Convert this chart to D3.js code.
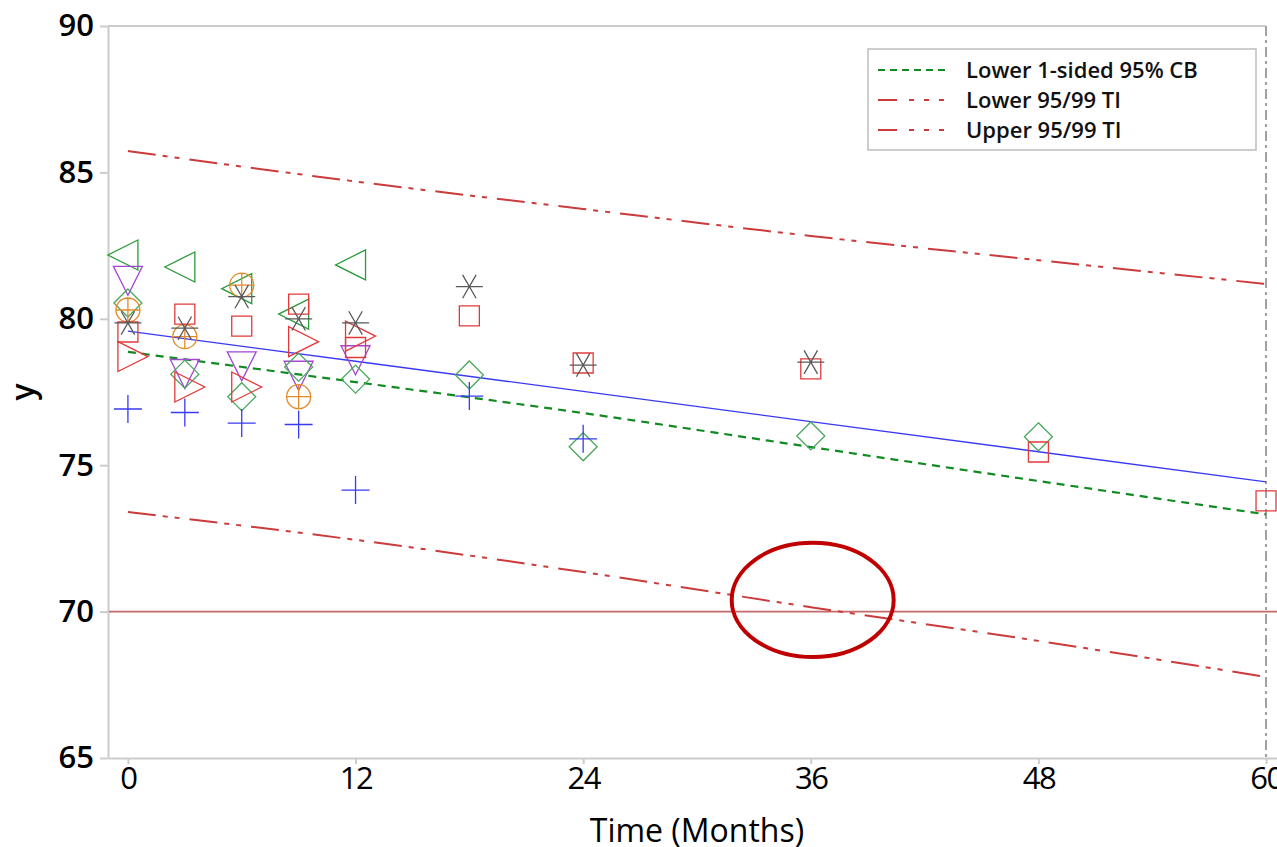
<!DOCTYPE html>
<html>
<head>
<meta charset="UTF-8">
<style>
  body { margin: 0; background: #fff; }
  svg { display: block; font-family: 'Open Sans', sans-serif; }
</style>
</head>
<body>
<svg id="chart" width="1277" height="847"></svg>
<script src="https://d3js.org/d3.v7.min.js"></script>
<script>
// sampling times (months)
const months = [0, 3, 6, 9, 12, 18, 24, 36, 48, 60];

// one array per batch, null = not tested
const batchPlus     = [76.92, 76.80, 76.44, 76.39, 74.15, 77.36, 75.90, null, null, null];
const batchLeftTri  = [82.18, 81.77, 81.03, 80.16, 81.84, null, null, null, null, null];
const batchDownTri  = [81.46, 78.28, 78.54, 78.22, 78.75, null, null, null, null, null];
const batchDiamond  = [80.54, 78.11, 77.34, 78.35, 77.94, 78.08, 75.63, 76.00, 75.97, null];
const batchCircle   = [80.30, 79.39, 81.15, 77.34, null, null, null, null, null, null];
const batchAsterisk = [79.86, 79.68, 80.76, 80.00, 79.86, 81.10, 78.42, 78.52, null, null];
const batchSquare   = [79.55, 80.16, 79.75, 80.50, 79.02, 80.10, 78.49, 78.29, 75.45, 73.78];
const batchRightTri = [78.71, 77.67, 77.67, 79.22, 79.41, null, null, null, null, null];

// fitted line and bands
const bandMonths = [0, 12, 24, 36, 48, 60];
const fitLine  = [79.58, 78.55, 77.52, 76.49, 75.46, 74.43];
const lowerCB  = [78.87, 77.84, 76.78, 75.62, 74.46, 73.32];
const lowerTI  = [73.40, 72.45, 71.35, 70.15, 69.00, 67.77];
const upperTI  = [85.73, 84.69, 83.75, 82.83, 82.00, 81.19];

const specLimit = 70;
const shelfLife = 60;
const xTicks = [0, 12, 24, 36, 48, 60];
const yTicks = [65, 70, 75, 80, 85, 90];
const legendLabels = ["Lower 1-sided 95% CB", "Lower 95/99 TI", "Upper 95/99 TI"];

let svg = d3.select("#chart");
svg.append("rect").attr("width", 1277).attr("height", 847).attr("fill", "#fff");

let x = d3.scaleLinear().domain([-1.05, 61]).range([108, 1285]);
let y = d3.scaleLinear().domain([65, 90]).range([758, 26]);

// axes
let yAxis = svg.append("g")
    .attr("transform", "translate(108,0)")
    .call(d3.axisLeft(y).tickValues(yTicks).tickSize(8).tickSizeOuter(0).tickPadding(6));
yAxis.selectAll("text")
    .attr("font-size", 31).attr("font-weight", 600).attr("fill", "#000")
    .attr("font-family", "'Open Sans', sans-serif");

let xAxis = svg.append("g")
    .attr("transform", "translate(0,758)")
    .call(d3.axisBottom(x).tickValues(xTicks).tickSize(6).tickSizeOuter(0).tickPadding(3));
xAxis.selectAll("text")
    .attr("font-size", 31).attr("fill", "#000")
    .attr("letter-spacing", -1.5)
    .attr("font-family", "'Open Sans', sans-serif");

svg.selectAll(".domain, .tick line").attr("stroke", "#cccccc").attr("stroke-width", 2);

// top frame
svg.append("line")
    .attr("x1", x(-1.05)).attr("x2", x(shelfLife))
    .attr("y1", y(90)).attr("y2", y(90))
    .attr("stroke", "#cccccc").attr("stroke-width", 2);

// axis titles
svg.append("text")
    .attr("x", x(30)).attr("y", 842)
    .attr("text-anchor", "middle")
    .attr("font-size", 32)
    .text("Time (Months)");

svg.append("text")
    .attr("transform", `translate(34,${y(77.5)}) rotate(-90)`)
    .attr("text-anchor", "middle")
    .attr("font-size", 32).attr("font-weight", 600)
    .text("y");

// clip for plot
svg.append("clipPath").attr("id", "plot")
  .append("rect").attr("x", 109).attr("y", 20).attr("width", 1200).attr("height", 737);

let plot = svg.append("g").attr("clip-path", "url(#plot)");

// reference lines
plot.append("line")
    .attr("x1", x(-1.05)).attr("x2", x(61))
    .attr("y1", y(specLimit)).attr("y2", y(specLimit))
    .attr("stroke", "#c46a6a").attr("stroke-width", 1.6);

plot.append("line")
    .attr("x1", x(shelfLife)).attr("x2", x(shelfLife))
    .attr("y1", y(90)).attr("y2", y(65))
    .attr("stroke", "#a0a0a0").attr("stroke-width", 2)
    .attr("stroke-dasharray", "10,4,3,4");

let line = d3.line()
    .x((d, i) => x(bandMonths[i]))
    .y(d => y(d))
    .curve(d3.curveMonotoneX);

let tiDash = "28,7,5,7,5,10";
plot.append("path").datum(upperTI).attr("d", line)
    .attr("fill", "none").attr("stroke", "#cc3b3b").attr("stroke-width", 2)
    .attr("stroke-dasharray", tiDash);
plot.append("path").datum(lowerTI).attr("d", line)
    .attr("fill", "none").attr("stroke", "#cc3b3b").attr("stroke-width", 2)
    .attr("stroke-dasharray", tiDash);
plot.append("path").datum(fitLine).attr("d", line)
    .attr("fill", "none").attr("stroke", "#3a3af5").attr("stroke-width", 1.3);
plot.append("path").datum(lowerCB).attr("d", line)
    .attr("fill", "none").attr("stroke", "#118a22").attr("stroke-width", 2.2)
    .attr("stroke-dasharray", "8,6");

// marker shapes, size = width in px
const s3 = Math.sqrt(3);
const symRight = { draw(c, w) { c.moveTo(-w / 3, -w / 2); c.lineTo(2 * w / 3, 0); c.lineTo(-w / 3, w / 2); c.closePath(); } };
const symLeft  = { draw(c, w) { c.moveTo(w / 3, -w / 2); c.lineTo(-2 * w / 3, 0); c.lineTo(w / 3, w / 2); c.closePath(); } };
const symDown  = { draw(c, w) { c.moveTo(-w / 2, -w / 3); c.lineTo(w / 2, -w / 3); c.lineTo(0, 2 * w / 3); c.closePath(); } };
const symSquare = { draw(c, w) { c.rect(-w / 2, -w / 2, w, w); } };
const symDiamond = { draw(c, w) { c.moveTo(0, -w / 2); c.lineTo(w / 2, 0); c.lineTo(0, w / 2); c.lineTo(-w / 2, 0); c.closePath(); } };
const symPlus = { draw(c, w) { c.moveTo(-w / 2, 0); c.lineTo(w / 2, 0); c.moveTo(0, -w / 2); c.lineTo(0, w / 2); } };
const symCirclePlus = { draw(c, w) {
    let r = w / 2;
    c.moveTo(r, 0); c.arc(0, 0, r, 0, 2 * Math.PI);
    c.moveTo(-r, 0); c.lineTo(r, 0); c.moveTo(0, -r); c.lineTo(0, r);
} };
const symAsterisk = { draw(c, w) {
    let r = w / 2;
    c.moveTo(-r, 0); c.lineTo(r, 0);
    c.moveTo(-r / 2, -r * s3 / 2); c.lineTo(r / 2, r * s3 / 2);
    c.moveTo(r / 2, -r * s3 / 2); c.lineTo(-r / 2, r * s3 / 2);
} };

const batches = [
    { values: batchLeftTri,  type: symLeft,       size: 30, color: "#2a9a3a" },
    { values: batchDownTri,  type: symDown,       size: 29, color: "#a345d6" },
    { values: batchDiamond,  type: symDiamond,    size: 28, color: "#47a85a" },
    { values: batchCircle,   type: symCirclePlus, size: 24, color: "#e48a26" },
    { values: batchRightTri, type: symRight,      size: 30, color: "#e23a3a" },
    { values: batchSquare,   type: symSquare,     size: 20, color: "#e23a3a" },
    { values: batchAsterisk, type: symAsterisk,   size: 27, color: "#5a5a5a" },
    { values: batchPlus,     type: symPlus,       size: 28, color: "#3a3af5" }
];

batches.forEach(b => {
    let pts = months.map((m, i) => ({ m: m, v: b.values[i] })).filter(d => d.v != null);
    svg.append("g").selectAll("path")
        .data(pts)
        .enter()
        .append("path")
        .attr("transform", d => `translate(${x(d.m)},${y(d.v)})`)
        .attr("d", d3.symbol().type(b.type).size(b.size))
        .attr("fill", "none")
        .attr("stroke", b.color)
        .attr("stroke-width", 1.3);
});

// highlight ellipse where lower TI crosses the limit
svg.append("ellipse")
    .attr("cx", x(36.1)).attr("cy", y(70.4))
    .attr("rx", x(36.1 + 4.27) - x(36.1))
    .attr("ry", y(70.4) - y(70.4 + 1.95))
    .attr("fill", "none").attr("stroke", "#c00000").attr("stroke-width", 4);

// legend
let legend = svg.append("g").attr("transform", "translate(868,49)");
legend.append("rect").attr("width", 388).attr("height", 101)
    .attr("fill", "#fff").attr("stroke", "#bdbdbd").attr("stroke-width", 1.5);

const legendStyles = [
    { color: "#118a22", dash: "7,5" },
    { color: "#cc3b3b", dash: "19,12,5,10,5,10,5" },
    { color: "#cc3b3b", dash: "19,12,5,10,5,10,5" }
];
legendLabels.forEach((label, i) => {
    let ly = 21 + i * 30;
    legend.append("line")
        .attr("x1", 10).attr("x2", 82).attr("y1", ly).attr("y2", ly)
        .attr("stroke", legendStyles[i].color).attr("stroke-width", 2)
        .attr("stroke-dasharray", legendStyles[i].dash);
    legend.append("text")
        .attr("x", 98).attr("y", ly + 8)
        .attr("font-size", 22).attr("font-weight", 600)
        .attr("fill", "#111")
        .text(label);
});
</script>
</body>
</html>
